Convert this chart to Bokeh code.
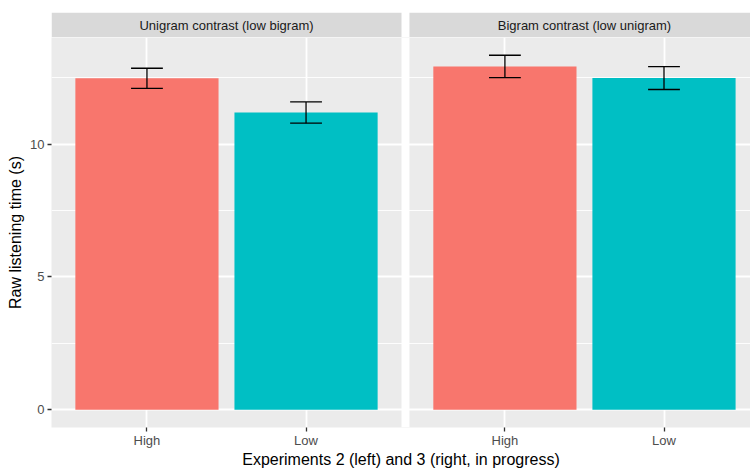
from bokeh.plotting import figure
from bokeh.layouts import column
from bokeh.models import Range1d, FixedTicker
from bokeh.core.properties import value
from bokeh.embed import file_html
from bokeh.resources import INLINE

# ---- data ----
panels = ["Unigram contrast (low bigram)", "Bigram contrast (low unigram)"]
conditions = ["High", "Low"]
means_uni = [12.48, 11.19]
se_uni = [0.38, 0.40]
means_bi = [12.93, 12.49]
se_bi = [0.42, 0.43]
bar_colors = ["#F8766D", "#00BFC4"]
y_ticks = [0, 5, 10]
y_minor = [2.5, 7.5, 12.5]
x_title = "Experiments 2 (left) and 3 (right, in progress)"
y_title = "Raw listening time (s)"

# ---- layout ----
W, H = 750, 470
BL, BR = 51, 0
STRIP_TOP, STRIP_PX = 12, 25
H_STRIP = STRIP_TOP + STRIP_PX
H_MAIN = H - H_STRIP
BB = 42
frame_w = W - BL - BR
px_per_unit_x = 350 / 2.2
offset = 2.25  # right panel category shift
FONT = "Liberation Sans"

xs = [1, 2, 1 + offset, 2 + offset]
means = means_uni + means_bi
ses = se_uni + se_bi
lower = [m - s for m, s in zip(means, ses)]
upper = [m + s for m, s in zip(means, ses)]
colors = bar_colors * 2
labels = conditions * 2

ymax = max(upper)
ylo, yhi = -0.05 * ymax, ymax * 1.05
x_range = Range1d(0.4, 0.4 + frame_w / px_per_unit_x)

# ---- strip row ----
s = figure(width=W, height=H_STRIP, output_backend="svg", toolbar_location=None,
           x_range=x_range, y_range=Range1d(0, 1),
           x_axis_location=None, y_axis_location=None,
           min_border_left=BL, min_border_right=BR, min_border_top=STRIP_TOP,
           min_border_bottom=0)
s.outline_line_color = None
s.background_fill_color = "white"
s.border_fill_color = "white"
s.grid.visible = False
s.quad(left=[0.4, 0.4 + offset], right=[2.6, 2.6 + offset], bottom=[0, 0],
       top=[1, 1], fill_color="#D9D9D9", line_color=None)
s.text(x=[1.5, 1.5 + offset], y=[0.5, 0.5], text=panels,
       text_font=value(FONT), text_font_size=value("13px"), text_color="#1A1A1A",
       text_align="center", text_baseline="middle")

# ---- panels ----
p = figure(width=W, height=H_MAIN, output_backend="svg", toolbar_location=None,
           x_range=x_range, y_range=Range1d(ylo, yhi),
           min_border_left=BL, min_border_right=BR, min_border_top=0,
           min_border_bottom=BB)
p.outline_line_color = None
p.background_fill_color = "#EBEBEB"
p.border_fill_color = "white"

p.xgrid.ticker = FixedTicker(ticks=xs)
p.ygrid.ticker = FixedTicker(ticks=y_ticks, minor_ticks=y_minor)
p.xgrid.grid_line_color = "white"
p.xgrid.grid_line_width = 1.8
p.ygrid.grid_line_color = "white"
p.ygrid.grid_line_width = 1.8
p.ygrid.minor_grid_line_color = "white"
p.ygrid.minor_grid_line_width = 0.9

p.vbar(x=xs, top=means, bottom=0, width=0.9, fill_color=colors, line_color=None)

cap = 0.1
p.segment(x0=xs, y0=lower, x1=xs, y1=upper, line_color="black", line_width=1.3)
p.segment(x0=[x - cap for x in xs], y0=upper, x1=[x + cap for x in xs], y1=upper,
          line_color="black", line_width=1.3)
p.segment(x0=[x - cap for x in xs], y0=lower, x1=[x + cap for x in xs], y1=lower,
          line_color="black", line_width=1.3)

# white gap between the two panels
p.quad(left=[2.6], right=[0.4 + offset], bottom=[ylo], top=[yhi],
       fill_color="white", line_color=None)

for ax in (p.xaxis[0], p.yaxis[0]):
    ax.axis_line_color = None
    ax.major_tick_in = 0
    ax.major_tick_out = 4
    ax.major_tick_line_color = "#333333"
    ax.major_tick_line_width = 1.3
    ax.minor_tick_line_color = None
    ax.major_label_text_font = FONT
    ax.major_label_text_font_size = "13px"
    ax.major_label_text_color = "#4D4D4D"
    ax.axis_label_text_font = FONT
    ax.axis_label_text_font_size = "16px"
    ax.axis_label_text_font_style = "normal"
    ax.axis_label_text_color = "black"

p.xaxis.ticker = FixedTicker(ticks=xs)
p.xaxis.major_label_overrides = {x: l for x, l in zip(xs, labels)}
p.xaxis.major_label_standoff = 1
p.xaxis.axis_label = x_title
p.xaxis.axis_label_standoff = 0

p.yaxis.ticker = FixedTicker(ticks=y_ticks)
p.yaxis.major_label_standoff = 3
p.yaxis.axis_label = y_title
p.yaxis.axis_label_standoff = 3

layout = column(s, p, spacing=0)
open("out.html", "w").write(file_html(layout, INLINE))
